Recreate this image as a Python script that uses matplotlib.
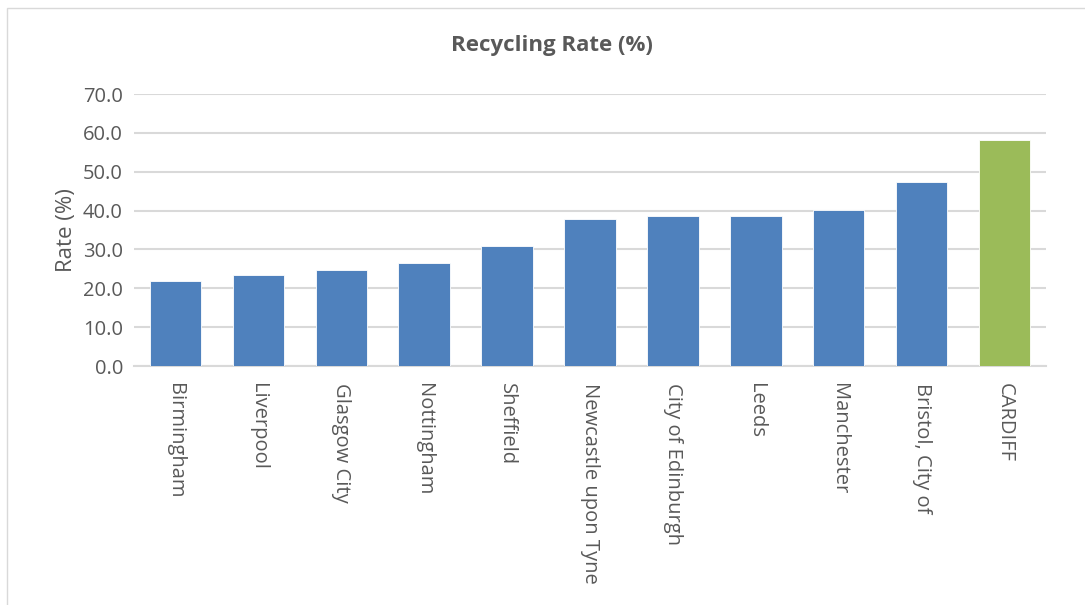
import matplotlib
matplotlib.use("Agg")
import matplotlib.pyplot as plt
from matplotlib.patches import Rectangle

cities = ["Birmingham", "Liverpool", "Glasgow City", "Nottingham", "Sheffield",
          "Newcastle upon Tyne", "City of Edinburgh", "Leeds", "Manchester",
          "Bristol, City of", "CARDIFF"]
rates = [21.8, 23.5, 24.7, 26.5, 30.9, 37.9, 38.6, 38.7, 40.1, 47.4, 58.2]
colours = ["#4f81bd"] * 10 + ["#9bbb59"]

plt.rcParams['font.family'] = ['Open Sans', 'DejaVu Sans']

fig = plt.figure(figsize=(10.85, 6.05), dpi=100)
# chart area border
fig.patches.append(Rectangle((7/1085, -0.01), 1.02, (605 - 8)/605 + 0.01,
                             transform=fig.transFigure, fill=False,
                             edgecolor="#d9d9d9", linewidth=1))

ax = fig.add_axes([134/1085, (605 - 366)/605, 912/1085, 272/605])
x = range(len(cities))
ax.bar(x, rates, width=0.62, color=colours, edgecolor="white", linewidth=0.6, zorder=3)

ax.set_ylim(0, 70)
ax.set_xlim(-0.5, len(cities) - 0.5)
ax.set_yticks(range(0, 71, 10))
ax.set_yticklabels([f"{v:.1f}" for v in range(0, 71, 10)])
ax.set_xticks(list(x))
ax.set_xticklabels(cities, rotation=-90)
ax.tick_params(length=0, labelsize=14.5, colors="#595959", pad=8)
ax.tick_params(axis="x", pad=12)
ax.grid(axis="y", color="#d9d9d9", linewidth=1.5, zorder=0)
for s in ["top", "right", "left"]:
    ax.spines[s].set_visible(False)
ax.spines["bottom"].set_color("#d9d9d9")
ax.spines["bottom"].set_linewidth(1.5)

ax.set_ylabel("Rate (%)", fontsize=16, color="#595959", labelpad=4)
fig.text(552/1085, 1 - 46/605, "Recycling Rate (%)", ha="center", va="center",
         fontsize=16, fontweight="bold", color="#595959")

fig.savefig("out.png", dpi=100)
